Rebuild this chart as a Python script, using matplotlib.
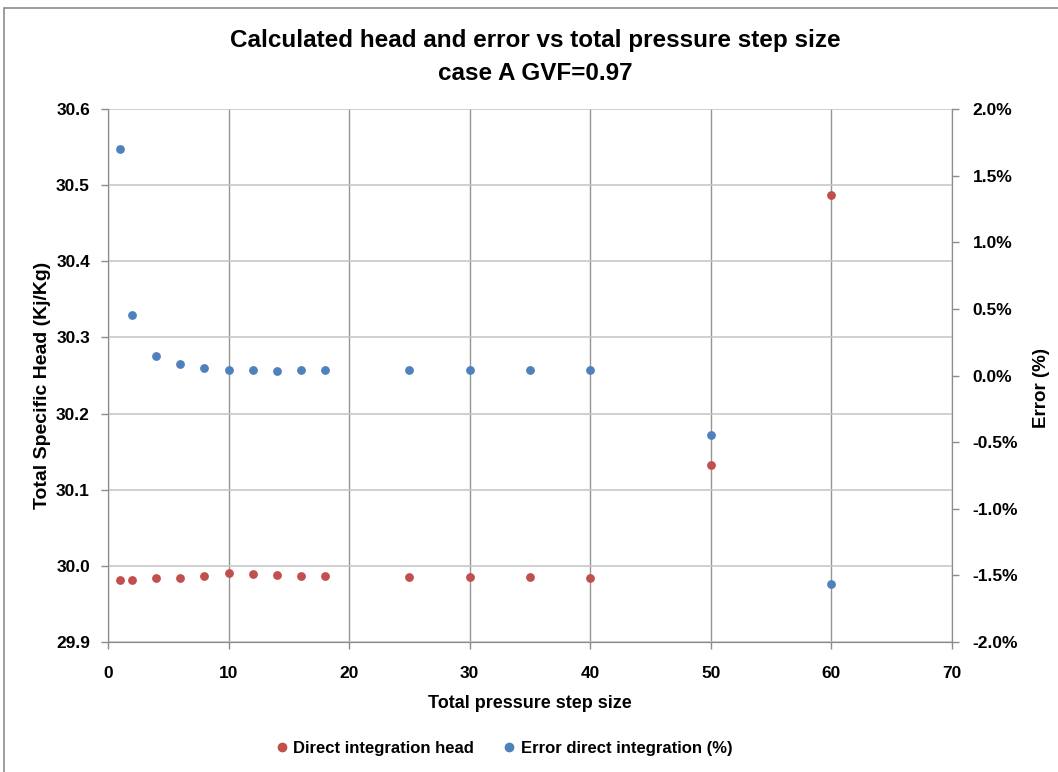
import matplotlib.pyplot as plt
from matplotlib.patches import Rectangle
from matplotlib.lines import Line2D
from matplotlib.ticker import FuncFormatter

plt.rcParams['font.family'] = ['Liberation Sans', 'DejaVu Sans']
plt.rcParams['font.weight'] = 'bold'

# data
step_size = [1, 2, 4, 6, 8, 10, 12, 14, 16, 18, 25, 30, 35, 40, 50, 60]
head = [29.981, 29.981, 29.984, 29.984, 29.987, 29.990, 29.989, 29.988,
        29.987, 29.987, 29.985, 29.985, 29.985, 29.984, 30.132, 30.487]
error_pct = [1.70, 0.454, 0.146, 0.086, 0.056, 0.039, 0.039, 0.034,
             0.039, 0.039, 0.039, 0.039, 0.039, 0.039, -0.447, -1.565]

head_ticks = [29.9, 30.0, 30.1, 30.2, 30.3, 30.4, 30.5, 30.6]
error_ticks = [-2.0, -1.5, -1.0, -0.5, 0.0, 0.5, 1.0, 1.5, 2.0]
x_ticks = [0, 10, 20, 30, 40, 50, 60, 70]

red = '#C0504D'
blue = '#4F81BD'
axis_grey = '#8C8C8C'

fig = plt.figure(figsize=(10.58, 7.72), dpi=100)
W, H = 1058, 772

# outer chart border
fig.patches.append(Rectangle((4 / W, -0.05), 1.1, 1 - 8 / H + 0.05,
                             transform=fig.transFigure, fill=False,
                             edgecolor='#8C8C8C', linewidth=1.2))

ax = fig.add_axes([108 / W, 1 - 642 / H, (952 - 108) / W, (642 - 109) / H])
ax2 = ax.twinx()

ax.scatter(step_size, head, s=40, color=red, zorder=3, linewidths=0)
ax2.scatter(step_size, error_pct, s=40, color=blue, zorder=3, linewidths=0)

ax.set_xlim(0, 70)
ax.set_ylim(29.9, 30.6)
ax2.set_ylim(-2.0, 2.0)
ax.set_xticks(x_ticks)
ax.set_yticks(head_ticks)
ax2.set_yticks(error_ticks)
ax.yaxis.set_major_formatter(FuncFormatter(lambda v, p: f'{v:.1f}'))
ax2.yaxis.set_major_formatter(FuncFormatter(lambda v, p: f'{v:.1f}%'))

ax.grid(axis='y', color='#C4C4C4', linewidth=1.1)
ax.grid(axis='x', color='#959595', linewidth=1.0)
ax.set_axisbelow(True)

for a in (ax, ax2):
    a.spines['top'].set_visible(False)
    for side in ('left', 'right', 'bottom'):
        a.spines[side].set_color(axis_grey)
    a.tick_params(length=5, color=axis_grey, labelsize=12.5, width=1)
ax.tick_params(axis='y', pad=8)
ax2.tick_params(axis='y', pad=10)
ax.tick_params(axis='x', pad=12)

ax.set_xlabel('Total pressure step size', fontsize=13, fontweight='bold', labelpad=10)
ax.set_ylabel('Total Specific Head (Kj/Kg)', fontsize=14, fontweight='bold')
ax2.set_ylabel('Error (%)', fontsize=13.5, fontweight='bold')
ax.yaxis.set_label_coords((51 - 108) / 844, 1 - (385 - 109) / 533)
ax2.yaxis.set_label_coords((1033 - 108) / 844, 1 - (388 - 109) / 533)

fig.text(535 / W, 1 - 41 / H, 'Calculated head and error vs total pressure step size',
         ha='center', va='center', fontsize=17.5, fontweight='bold')
fig.text(535 / W, 1 - 73 / H, 'case A GVF=0.97',
         ha='center', va='center', fontsize=17.5, fontweight='bold')

handles = [Line2D([], [], marker='o', linestyle='', color=red, markersize=6),
           Line2D([], [], marker='o', linestyle='', color=blue, markersize=6)]
fig.legend(handles, ['Direct integration head', 'Error direct integration (%)'],
           loc='center', bbox_to_anchor=(503 / W, 1 - 748 / H), ncol=2,
           frameon=False, fontsize=12, handletextpad=0.2, columnspacing=1.6,
           handlelength=1)

fig.savefig('out.png', dpi=100)
